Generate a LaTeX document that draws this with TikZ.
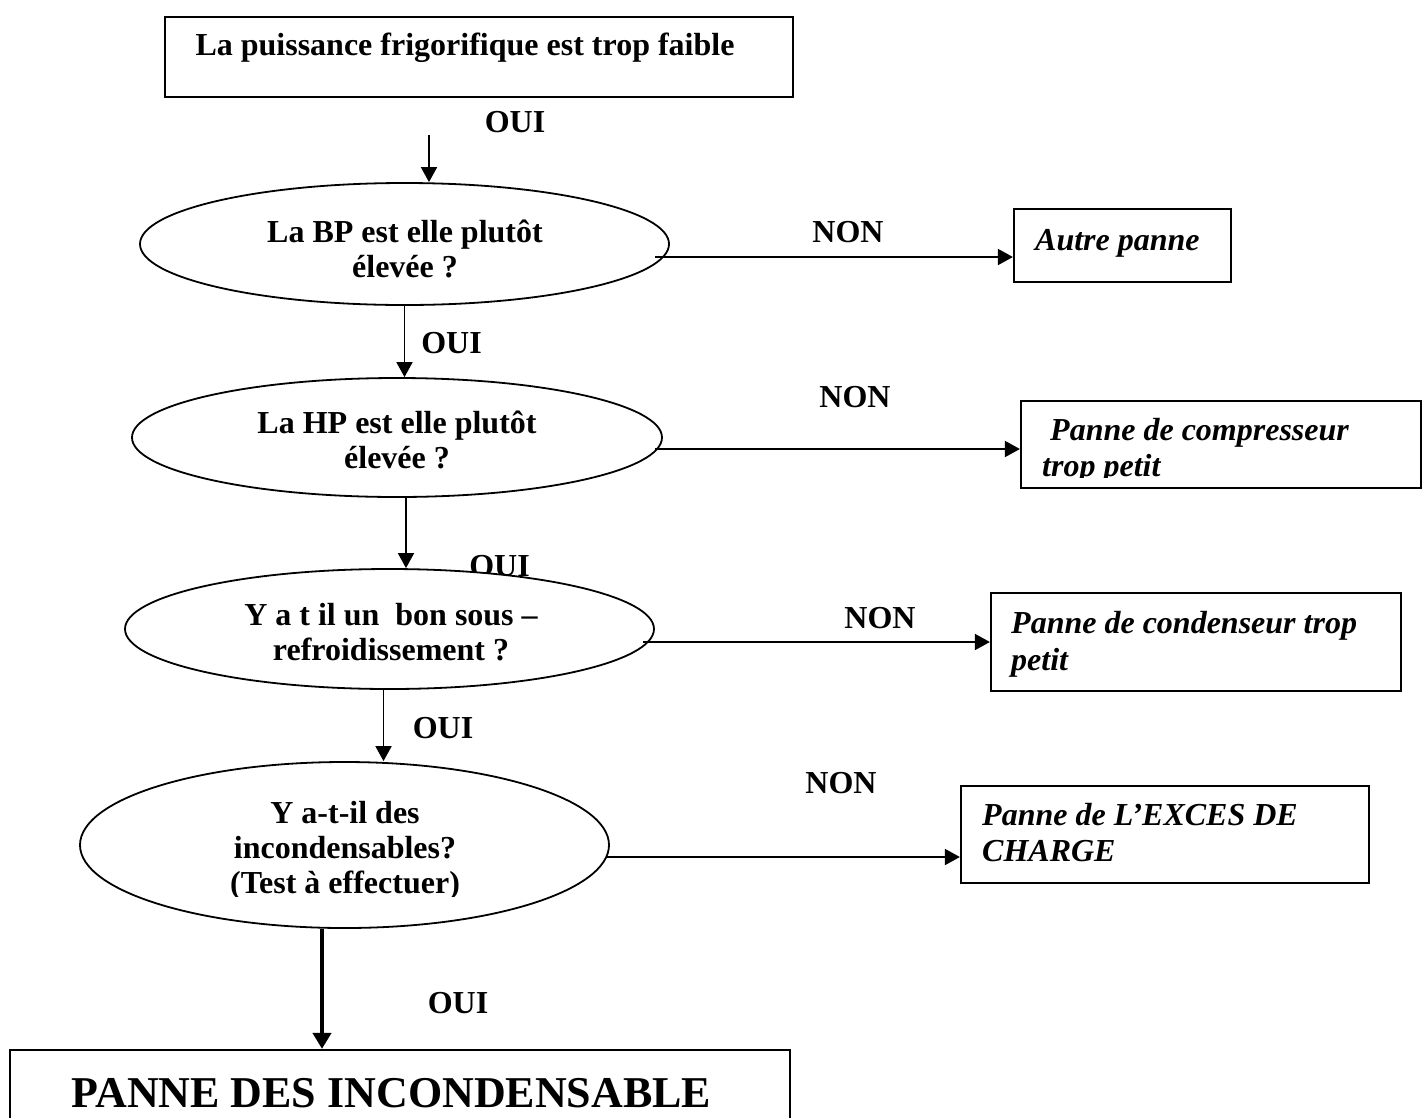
\documentclass[tikz,border=0pt]{standalone}
\usepackage{fontspec}
\setmainfont{Liberation Serif}
\usetikzlibrary{arrows.meta,shapes.geometric,calc}
\begin{document}
\begin{tikzpicture}[x=1pt,y=-1pt,
  every node/.style={font=\fontsize{32}{35}\selectfont\bfseries},
  lbl/.style={anchor=base, inner sep=0},
  btxt/.style={anchor=base west, inner sep=0, font=\fontsize{32}{35}\selectfont\bfseries\itshape},
  qbox/.style={draw, line width=1.8pt, ellipse, fill=white, inner sep=0},
  rbox/.style={draw, line width=2.2pt, rectangle, inner sep=0},
  arr/.style={line width=1.8pt, -{Triangle[length=15pt,width=16pt]}},
  bigarr/.style={line width=4.5pt, -{Triangle[length=16pt,width=18pt]}},
]
\path[use as bounding box] (0,0) rectangle (1423,1117);
\clip (0,0) rectangle (1423,1117);

% starting statement
\node[rbox, minimum width=628pt, minimum height=80pt] (start) at (479,57) {};
\node[lbl] (starttxt) at (465,55) {La puissance frigorifique est trop faible};
\node[lbl] (oui1) at (515,132) {OUI};
\coordinate (a1) at (429,135);

% question 1
\node[qbox, minimum width=529pt, minimum height=122pt] (q1) at (404.5,244) {};
\node[lbl] (q1a) at (405,242) {La BP est elle plutôt};
\node[lbl] (q1b) at (405,277) {élevée ?};
\draw[arr] (a1) -- (a1 |- q1.north);

\node[rbox, minimum width=217pt, minimum height=73pt] (r1) at (1122.5,245.5) {};
\node[btxt] (r1txt) at (1035,250) {Autre panne};
\node[lbl] (non1) at (848,242) {NON};
\coordinate (n1) at (655,257);
\draw[arr] (n1) -- (n1 -| r1.west);

% question 2
\node[lbl] (oui2) at (451.5,353) {OUI};
\node[qbox, minimum width=530pt, minimum height=119pt] (q2) at (397,437.5) {};
\node[lbl] (q2a) at (397,433) {La HP est elle plutôt};
\node[lbl] (q2b) at (397,468) {élevée ?};
\draw[arr] (q1.south) -- (q1.south |- q2.north);

\node[rbox, minimum width=400pt, minimum height=87pt] (r2) at (1221,444.5) {};
\node[btxt] (r2a) at (1050,440) {Panne de compresseur};
\begin{scope}
  \clip (1021,401) rectangle (1421,477.5);
  \node[btxt] (r2b) at (1042,476) {trop petit};
\end{scope}
\node[lbl] (non2) at (855,407) {NON};
\coordinate (n2) at (655,449);
\draw[arr] (n2) -- (n2 -| r2.west);

% question 3
\node[lbl] (oui3) at (499.5,576) {OUI};
\node[qbox, minimum width=529pt, minimum height=120pt] (q3) at (389.5,629) {};
\node[lbl] (q3a) at (391,625) {Y a t il un~~bon sous –};
\node[lbl] (q3b) at (391,660) {refroidissement ?};
\coordinate (a3) at ($(q2.south)+(9,0)$);
\draw[arr] (a3) -- (a3 |- q3.north);

\node[rbox, minimum width=410pt, minimum height=98pt] (r3) at (1196,642) {};
\node[btxt] (r3a) at (1011,633) {Panne de condenseur trop};
\node[btxt] (r3b) at (1011,670) {petit};
\node[lbl] (non3) at (880,628) {NON};
\coordinate (n3) at (643,642);
\draw[arr] (n3) -- (n3 -| r3.west);

% question 4
\node[lbl] (oui4) at (443,738) {OUI};
\node[qbox, minimum width=529pt, minimum height=166pt] (q4) at (344.5,845) {};
\node[lbl] (q4a) at (345,823) {Y a-t-il des};
\node[lbl] (q4b) at (345,858) {incondensables?};
\begin{scope}
  \clip (80,860) rectangle (609,896.5);
  \node[lbl] (q4c) at (345,893) {(Test à effectuer)};
\end{scope}
\coordinate (a4) at ($(q3.south)+(-6,0)$);
\draw[arr] (a4) -- (a4 |- q4.north);

\node[rbox, minimum width=408pt, minimum height=97pt] (r4) at (1165,834.5) {};
\node[btxt] (r4a) at (982,825) {Panne de L’EXCES DE};
\node[btxt] (r4b) at (982,861) {CHARGE};
\node[lbl] (non4) at (841,793) {NON};
\coordinate (n4) at (606,857);
\draw[arr] (n4) -- (n4 -| r4.west);

% conclusion
\node[rbox, minimum width=780pt, minimum height=90pt] (fin) at (400,1095) {};
\node[lbl, font=\fontsize{44}{48}\selectfont\bfseries] (fintxt) at (391.5,1107) {PANNE DES INCONDENSABLE};
\node[lbl] (oui5) at (458,1013) {OUI};
\coordinate (a5) at ($(q4.south)+(-22.5,0)$);
\draw[bigarr] (a5) -- (a5 |- fin.north);
\end{tikzpicture}
\end{document}
